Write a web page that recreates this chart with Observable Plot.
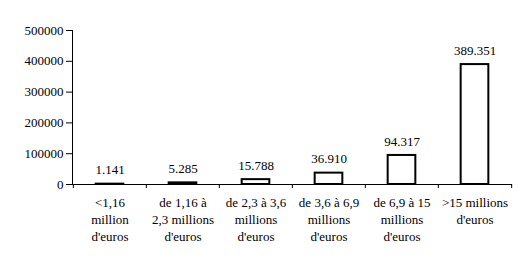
<!DOCTYPE html>
<html>
<head>
<meta charset="utf-8">
<script src="https://cdn.jsdelivr.net/npm/d3@7"></script>
<script src="https://cdn.jsdelivr.net/npm/@observablehq/plot@0.6"></script>
<style>
  html, body { margin: 0; padding: 0; background: #fff; }
  #chart svg, #chart svg text { font-family: "Liberation Serif", Tinos, "Times New Roman", Times, serif !important; }
</style>
</head>
<body>
<div id="chart"></div>
<script>
const categories = ["c1", "c2", "c3", "c4", "c5", "c6"];
const categoryLabels = [
  "<1,16\nmillion\nd'euros",
  "de 1,16 à\n2,3 millions\nd'euros",
  "de 2,3 à 3,6\nmillions\nd'euros",
  "de 3,6 à 6,9\nmillions\nd'euros",
  "de 6,9 à 15\nmillions\nd'euros",
  ">15 millions\nd'euros"
];
const values = [1141, 5285, 15788, 36910, 94317, 389351];
const valueLabels = ["1.141", "5.285", "15.788", "36.910", "94.317", "389.351"];
const yTicks = [0, 100000, 200000, 300000, 400000, 500000];

const data = categories.map((c, i) => ({cat: c, value: values[i], label: valueLabels[i]}));
const labelOf = Object.fromEntries(categories.map((c, i) => [c, categoryLabels[i]]));

const W = 530, H = 269, mL = 72, mR = 18, mT = 30, mB = 85;
const bw = (W - mL - mR) / categories.length;
const barW = 28;

const chart = Plot.plot({
  width: W,
  height: H,
  marginLeft: mL,
  marginRight: mR,
  marginTop: mT,
  marginBottom: mB,
  style: {fontSize: "13px", color: "#000", background: "#fff"},
  x: {domain: categories, padding: 0, axis: null},
  y: {domain: [0, 500000], ticks: yTicks, tickFormat: d => String(d), tickSize: 6, tickPadding: 3, label: null, line: true},
  marks: [
    Plot.barY(data, {x: "cat", y: "value", fill: "#fff", stroke: "#000", strokeWidth: 2,
      insetLeft: (bw - barW) / 2, insetRight: (bw - barW) / 2}),
    Plot.ruleY([0], {stroke: "#000", strokeWidth: 1}),
    Plot.axisX({tickSize: 4, tickFormat: () => "", dx: -bw / 2, label: null}),
    Plot.axisX([categories[categories.length - 1]], {tickSize: 4, tickFormat: () => "", dx: bw / 2, label: null}),
    Plot.axisX({tickSize: 0, tickPadding: 10, tickFormat: d => labelOf[d], fontSize: 13, lineHeight: 1.32, label: null}),
    Plot.text(data, {x: "cat", y: "value", text: "label", dy: -14, fontSize: 13, fill: "#000"})
  ]
});
document.getElementById("chart").appendChild(chart);
</script>
</body>
</html>
